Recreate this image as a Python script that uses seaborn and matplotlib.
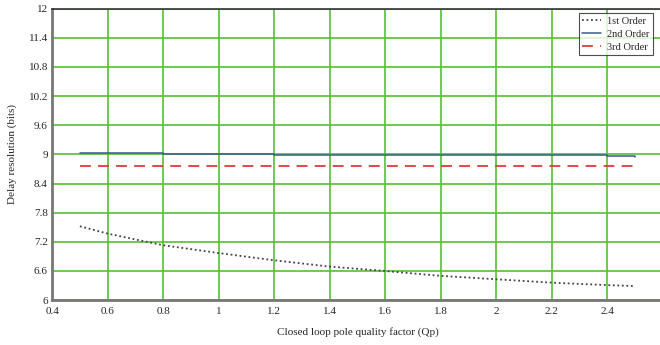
import matplotlib
matplotlib.use("Agg")
import matplotlib.pyplot as plt
import seaborn as sns
import pandas as pd

qp = [0.5, 0.6, 0.8, 1.0, 1.2, 1.4, 1.6, 1.8, 2.0, 2.2, 2.4, 2.5]
first_order = [7.52, 7.37, 7.13, 6.97, 6.82, 6.69, 6.60, 6.50, 6.43, 6.36, 6.31, 6.29]
second_order = [9.03, 9.03, 9.01, 9.0, 8.99, 8.99, 8.98, 8.98, 8.98, 8.98, 8.97, 8.95]
third_order = [8.76] * 12
series_names = ["1st Order", "2nd Order", "3rd Order"]
x_ticks = [0.4, 0.6, 0.8, 1.0, 1.2, 1.4, 1.6, 1.8, 2.0, 2.2, 2.4]
y_ticks = [6, 6.6, 7.2, 7.8, 8.4, 9, 9.6, 10.2, 10.8, 11.4, 12]

df = pd.concat([
    pd.DataFrame({"Qp": qp, "val": v, "series": n})
    for v, n in zip([first_order, second_order, third_order], series_names)
])

sns.set_style("white")
plt.rcParams["font.family"] = ["Liberation Serif", "DejaVu Serif"]

fig = plt.figure(figsize=(6.6, 3.45), dpi=100)
ax = fig.add_axes([0.079, 0.130, 0.925, 0.845])

styles = {"1st Order": dict(color="#444444", ls=(0, (1, 1.5)), lw=1.3),
          "2nd Order": dict(color="#3a5a8c", ls="-", lw=1.1),
          "3rd Order": dict(color="#e0383c", ls=(0, (6, 4)), lw=1.3)}
for n in series_names:
    sub = df[df.series == n]
    sns.lineplot(data=sub, x="Qp", y="val", ax=ax, label=n,
                 drawstyle="steps-post" if n == "2nd Order" else "default", **styles[n])

ax.set_xlim(0.4, 2.6)
ax.set_ylim(6, 12)
ax.set_xticks(x_ticks)
ax.set_xticklabels(["0.4", "0.6", "0.8", "1", "1.2", "1.4", "1.6", "1.8", "2", "2.2", "2.4"])
ax.set_yticks(y_ticks)
ax.set_yticklabels(["6", "6.6", "7.2", "7.8", "8.4", "9", "9.6", "10.2", "10.8", "11.4", "12"])
ax.grid(True, color="#55c030", lw=1.2)
ax.set_axisbelow(True)
ax.tick_params(labelsize=8, length=0)
ax.tick_params(axis="x", pad=5)
ax.tick_params(axis="y", pad=3)
ax.set_xlabel("Closed loop pole quality factor (Qp)", fontsize=8, labelpad=8)
ax.set_ylabel("Delay resolution (bits)", fontsize=8, labelpad=8)
for s in ["left", "bottom"]:
    ax.spines[s].set_color("#777777")
    ax.spines[s].set_linewidth(2)
ax.spines["top"].set_color("#333333")
ax.spines["top"].set_linewidth(1.2)
ax.spines["right"].set_visible(False)

leg = ax.legend(loc="upper right", bbox_to_anchor=(0.985, 0.986), fontsize=7.5, frameon=True,
                fancybox=False, edgecolor="#222222", handlelength=1.8, borderpad=0.35,
                labelspacing=0.35, handletextpad=0.6, borderaxespad=0)
leg.get_frame().set_linewidth(0.8)

fig.savefig("out.png", dpi=100)
